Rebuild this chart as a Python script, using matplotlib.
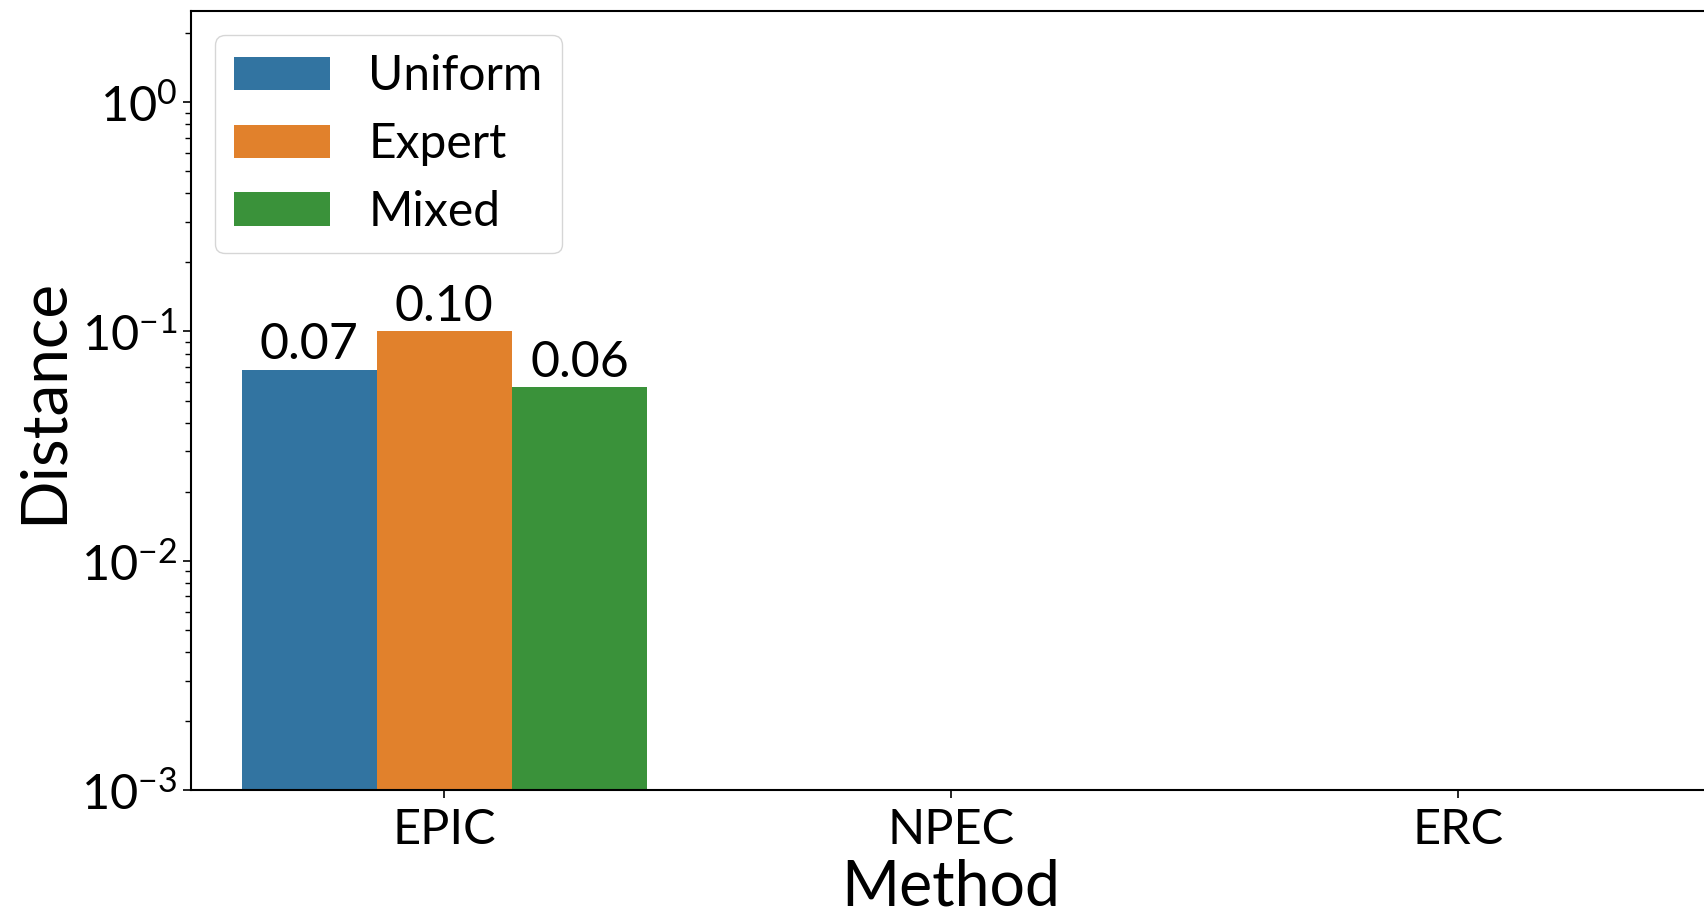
import matplotlib
matplotlib.use("Agg")
import matplotlib.pyplot as plt
import numpy as np

# data
methods = ["EPIC", "NPEC", "ERC"]
series = ["Uniform", "Expert", "Mixed"]
uniform_vals = [0.068, np.nan, np.nan]
expert_vals = [0.100, np.nan, np.nan]
mixed_vals = [0.057, np.nan, np.nan]
colors = ["#3274a1", "#e1812c", "#3a923a"]

plt.rcParams['font.family'] = ['Lato', 'DejaVu Sans']
plt.rcParams['mathtext.fontset'] = 'custom'
plt.rcParams['mathtext.rm'] = 'Lato'
plt.rcParams['mathtext.it'] = 'Lato:italic'
plt.rcParams['mathtext.bf'] = 'Lato:bold'
plt.rcParams['axes.linewidth'] = 1.5


fig = plt.figure(figsize=(17.04, 9.14), dpi=100)
ax = fig.add_axes([191/1704, 124/914, 1520/1704, 779/914])

x = np.arange(len(methods))
w = 0.8 / len(series)
for j, (name, vals) in enumerate(zip(series, [uniform_vals, expert_vals, mixed_vals])):
    bars = ax.bar(x + (j - 1) * w, vals, width=w, color=colors[j], label=name)
    labels = ["" if np.isnan(v) else "%.2f" % v for v in vals]
    ax.bar_label(bars, labels=labels, padding=1, fontsize=36)

ax.set_yscale('log')
ax.set_ylim(1e-3, 2.5)
ax.set_xlim(-0.5, 2.5)
ax.set_xticks(x)
ax.set_xticklabels(methods)
ax.tick_params(axis='both', labelsize=35, width=1.2, length=6)
ax.tick_params(axis='x', pad=7)
ax.tick_params(axis='y', which='minor', width=1.0, length=4)
ax.set_xlabel("Method", fontsize=45, labelpad=5)
ax.set_ylabel("Distance", fontsize=46, labelpad=6)

ax.legend(loc='upper left', fontsize=34.5, handlelength=2.0)

fig.savefig("out.png", dpi=100)
